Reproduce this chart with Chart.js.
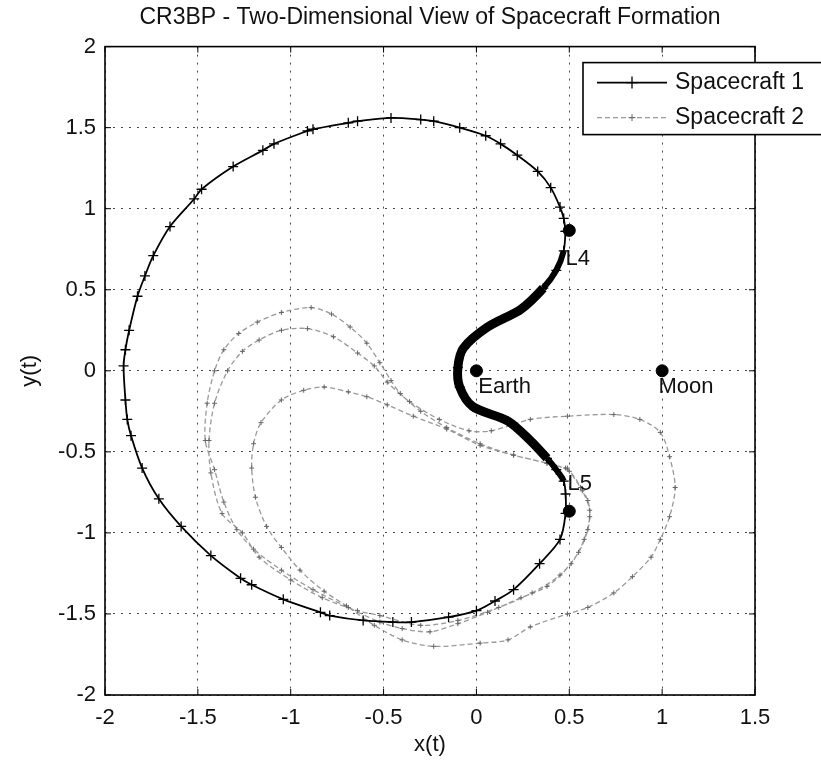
<!DOCTYPE html>
<html>
<head>
<meta charset="utf-8">
<title>CR3BP - Two-Dimensional View of Spacecraft Formation</title>
<script src="https://cdn.jsdelivr.net/npm/chart.js@4.4.1/dist/chart.umd.min.js"></script>
<style>
  html, body { margin: 0; padding: 0; background: #fff; }
  #wrap { width: 821px; height: 762px; }
</style>
</head>
<body>
<div id="wrap"><canvas id="orbitChart" width="821" height="762"></canvas></div>
<script>
// Spacecraft 1 (L4 -> top -> left -> bottom -> L5 -> Earth -> L4)
var sc1X = [0.48, 0.47, 0.45, 0.40, 0.33, 0.22, 0.13, 0.05, -0.09, -0.23,
            -0.30, -0.46, -0.64, -0.69, -0.88, -0.91, -1.09, -1.15, -1.31, -1.48,
            -1.52, -1.65, -1.74, -1.785, -1.825, -1.87, -1.89, -1.90, -1.89, -1.88,
            -1.86, -1.80, -1.71, -1.59, -1.43, -1.27, -1.21, -1.04, -0.84, -0.79,
            -0.61, -0.45, -0.35, -0.15, 0.00, 0.10, 0.20, 0.34, 0.45, 0.48,
            0.48, 0.47, 0.43, 0.38, 0.29, 0.17, -0.02, -0.09, -0.10, -0.07,
            0.06, 0.24, 0.36, 0.43, 0.47, 0.48];
var sc1Y = [0.86, 0.94, 1.01, 1.13, 1.23, 1.33, 1.40, 1.45, 1.50, 1.54,
            1.55, 1.56, 1.54, 1.53, 1.49, 1.48, 1.40, 1.36, 1.26, 1.12,
            1.06, 0.89, 0.71, 0.585, 0.46, 0.25, 0.13, 0.03, -0.18, -0.30,
            -0.40, -0.60, -0.79, -0.96, -1.14, -1.28, -1.32, -1.41, -1.49, -1.51,
            -1.54, -1.55, -1.55, -1.52, -1.48, -1.42, -1.35, -1.19, -1.04, -0.88,
            -0.76, -0.68, -0.61, -0.54, -0.43, -0.31, -0.22, -0.10, 0.02, 0.14,
            0.27, 0.38, 0.51, 0.62, 0.74, 0.86];
// the slow stretch between L5 and L4 where the markers pile up
var sc1DenseFrom = 51;
var sc1DenseTo = 64;
var sc1CoreFrom = 53;
var sc1CoreTo = 62;

// Spacecraft 2
var sc2X = [0.49, 0.56, 0.60, 0.61, 0.58, 0.51, 0.38, 0.24, 0.06, -0.10,
            -0.25, -0.40, -0.52, -0.69, -0.88, -1.05, -1.20, -1.29, -1.36, -1.41,
            -1.46, -1.45, -1.41, -1.36, -1.28, -1.18, -1.05, -0.89, -0.78, -0.68,
            -0.59, -0.52, -0.46, -0.41, -0.30, -0.16, 0.02, 0.20, 0.38, 0.50,
            0.57, 0.61, 0.60, 0.55, 0.45, 0.30, 0.12, -0.10, -0.30, -0.52,
            -0.64, -0.83, -1.00, -1.17, -1.26, -1.37, -1.43, -1.44, -1.41, -1.34,
            -1.26, -1.17, -1.05, -0.91, -0.77, -0.64, -0.55, -0.48, -0.36, -0.20,
            -0.04, 0.08, 0.29, 0.49, 0.74, 0.88, 0.99, 1.04, 1.07, 1.04,
            0.99, 0.94, 0.84, 0.74, 0.60, 0.49, 0.29, 0.17, 0.02, -0.23,
            -0.40, -0.55, -0.70, -0.82, -0.95, -1.05, -1.13, -1.19, -1.21, -1.20,
            -1.16, -1.05, -0.93, -0.82, -0.69, -0.59, -0.48, -0.34, -0.16, 0.02,
            0.20, 0.38, 0.48];
var sc2Y = [-0.60, -0.72, -0.80, -0.90, -1.04, -1.19, -1.33, -1.40, -1.49, -1.56,
            -1.61, -1.59, -1.55, -1.46, -1.35, -1.23, -1.10, -0.98, -0.81, -0.61,
            -0.43, -0.20, 0.00, 0.13, 0.23, 0.30, 0.36, 0.39, 0.35, 0.27,
            0.17, 0.05, -0.06, -0.14, -0.25, -0.35, -0.45, -0.52, -0.57, -0.62,
            -0.74, -0.86, -0.98, -1.12, -1.26, -1.37, -1.46, -1.54, -1.57, -1.51,
            -1.48, -1.40, -1.29, -1.15, -1.00, -0.88, -0.63, -0.43, -0.20, 0.00,
            0.12, 0.19, 0.25, 0.26, 0.21, 0.11, 0.03, -0.07, -0.19, -0.30,
            -0.37, -0.37, -0.30, -0.28, -0.27, -0.30, -0.38, -0.53, -0.72, -0.90,
            -1.04, -1.15, -1.27, -1.37, -1.46, -1.50, -1.58, -1.66, -1.68, -1.70,
            -1.66, -1.57, -1.45, -1.36, -1.23, -1.09, -0.96, -0.78, -0.60, -0.45,
            -0.32, -0.18, -0.12, -0.10, -0.13, -0.16, -0.21, -0.28, -0.36, -0.46,
            -0.52, -0.57, -0.60];

// bodies and libration points
var bodyNames = ['Earth', 'Moon', 'L4', 'L5'];
var bodyX = [0, 1, 0.5, 0.5];
var bodyY = [0, 0, 0.866, -0.866];
var labelX = [0.01, 0.98, 0.48, 0.49];
var labelY = [-0.1, -0.1, 0.69, -0.7];

var xTicks = [-2, -1.5, -1, -0.5, 0, 0.5, 1, 1.5];
var yTicks = [-2, -1.5, -1, -0.5, 0, 0.5, 1, 1.5, 2];

var FONT = "'Liberation Sans', Arial, Helvetica, sans-serif";

function pts(xs, ys) {
    var out = [];
    for (var i = 0; i < xs.length; i++) out.push({x: xs[i], y: ys[i]});
    return out;
}

// title centred over the axes, like matlab
var titleOverAxes = {
    id: 'titleOverAxes',
    afterLayout: function(chart) {
        var t = chart.titleBlock;
        if (t) {
            t.left = chart.chartArea.left;
            t.right = chart.chartArea.right;
            t.width = t.right - t.left;
        }
    }
};

// text next to Earth, Moon, L4, L5
var bodyLabels = {
    id: 'bodyLabels',
    afterDatasetsDraw: function(chart) {
        var ctx = chart.ctx, xs = chart.scales.x, ys = chart.scales.y;
        ctx.save();
        ctx.fillStyle = '#111';
        ctx.font = '22px ' + FONT;
        ctx.textAlign = 'left';
        ctx.textBaseline = 'middle';
        for (var i = 0; i < bodyNames.length; i++) {
            ctx.fillText(bodyNames[i], xs.getPixelForValue(labelX[i]), ys.getPixelForValue(labelY[i]));
        }
        ctx.restore();
    }
};

// box, inward ticks and the legend box
var axesBox = {
    id: 'axesBox',
    afterDraw: function(chart) {
        var ctx = chart.ctx, a = chart.chartArea, xs = chart.scales.x, ys = chart.scales.y;
        ctx.save();
        ctx.strokeStyle = '#000';
        ctx.lineWidth = 1;
        ctx.beginPath();
        xTicks.forEach(function(v) {
            var px = xs.getPixelForValue(v);
            ctx.moveTo(px, a.bottom); ctx.lineTo(px, a.bottom - 6);
            ctx.moveTo(px, a.top); ctx.lineTo(px, a.top + 6);
        });
        yTicks.forEach(function(v) {
            var py = ys.getPixelForValue(v);
            ctx.moveTo(a.left, py); ctx.lineTo(a.left + 6, py);
            ctx.moveTo(a.right, py); ctx.lineTo(a.right - 6, py);
        });
        ctx.stroke();
        ctx.lineWidth = 1.6;
        ctx.strokeRect(a.left, a.top, a.right - a.left, a.bottom - a.top);

        // legend
        var ds = chart.data.datasets;
        var lx = a.right - 172, ly = a.top + 16;
        ctx.fillStyle = '#fff';
        ctx.fillRect(lx, ly, 245, 72);
        ctx.lineWidth = 1.6;
        ctx.strokeRect(lx, ly, 245, 72);
        ctx.font = '23px ' + FONT;
        ctx.textBaseline = 'middle';
        ctx.textAlign = 'left';
        [1, 2].forEach(function(k, row) {
            var d = ds[k];
            var yy = ly + 20 + row * 35;
            ctx.save();
            ctx.strokeStyle = d.borderColor;
            ctx.lineWidth = d.borderWidth;
            ctx.setLineDash(d.borderDash || []);
            ctx.beginPath();
            ctx.moveTo(lx + 14, yy); ctx.lineTo(lx + 84, yy);
            ctx.stroke();
            ctx.setLineDash([]);
            ctx.strokeStyle = d.pointBorderColor;
            ctx.lineWidth = d.pointBorderWidth;
            var r = d.pointRadius + 1;
            ctx.beginPath();
            ctx.moveTo(lx + 49 - r, yy); ctx.lineTo(lx + 49 + r, yy);
            ctx.moveTo(lx + 49, yy - r); ctx.lineTo(lx + 49, yy + r);
            ctx.stroke();
            ctx.restore();
            ctx.fillStyle = '#111';
            ctx.fillText(d.label, lx + 92, yy);
        });
        ctx.restore();
    }
};

new Chart(document.getElementById('orbitChart'), {
    type: 'scatter',
    data: {
        datasets: [{
            label: 'Bodies',
            data: pts(bodyX, bodyY),
            showLine: false,
            pointRadius: 6,
            pointBackgroundColor: '#000',
            pointBorderColor: '#000',
            pointBorderWidth: 1
        }, {
            label: 'Spacecraft 1',
            data: pts(sc1X, sc1Y),
            showLine: true,
            tension: 0.3,
            borderColor: '#000',
            borderWidth: 1.8,
            pointStyle: 'cross',
            pointRadius: 5,
            pointBorderColor: '#000',
            pointBorderWidth: 1.3,
            segment: {
                borderWidth: function(c) {
                    if (c.p0DataIndex >= sc1CoreFrom && c.p1DataIndex <= sc1CoreTo) return 9;
                    if (c.p0DataIndex >= sc1DenseFrom && c.p1DataIndex <= sc1DenseTo) return 6;
                    return 1.8;
                }
            }
        }, {
            label: 'Spacecraft 2',
            data: pts(sc2X, sc2Y),
            showLine: true,
            tension: 0.3,
            borderColor: '#999',
            borderWidth: 1.3,
            borderDash: [5, 3],
            pointStyle: 'cross',
            pointRadius: 2.5,
            pointBorderColor: '#666',
            pointBorderWidth: 1
        }]
    },
    options: {
        responsive: false,
        animation: false,
        events: [],
        layout: { padding: { left: 0, right: 66, top: 0, bottom: 0 } },
        plugins: {
            legend: { display: false },
            tooltip: { enabled: false },
            title: {
                display: true,
                text: 'CR3BP - Two-Dimensional View of Spacecraft Formation',
                color: '#111',
                font: { family: FONT, size: 23, weight: 'normal' },
                padding: { top: 4, bottom: 15 }
            }
        },
        scales: {
            x: {
                type: 'linear',
                min: -2, max: 1.5,
                afterFit: function(s) { s.height = 67; },
                afterBuildTicks: function(s) { s.ticks = xTicks.map(function(v) { return {value: v}; }); },
                ticks: {
                    padding: 10,
                    color: '#111',
                    font: { family: FONT, size: 22 },
                    maxRotation: 0,
                    callback: function(v) { return String(v); }
                },
                grid: { color: '#4a4a4a', lineWidth: 1, drawTicks: false },
                border: { display: false, dash: [2, 6] },
                title: {
                    display: true, text: 'x(t)', color: '#111',
                    font: { family: FONT, size: 22 },
                    padding: { top: 0, bottom: 4 }
                }
            },
            y: {
                type: 'linear',
                min: -2, max: 2,
                afterFit: function(s) { s.width = 105; },
                afterBuildTicks: function(s) { s.ticks = yTicks.map(function(v) { return {value: v}; }); },
                ticks: {
                    padding: 9,
                    color: '#111',
                    font: { family: FONT, size: 22 },
                    callback: function(v) { return String(v); }
                },
                grid: { color: '#4a4a4a', lineWidth: 1, drawTicks: false },
                border: { display: false, dash: [2, 6] },
                title: {
                    display: true, text: 'y(t)', color: '#111',
                    font: { family: FONT, size: 22 },
                    padding: { top: 17, bottom: 0 }
                }
            }
        }
    },
    plugins: [titleOverAxes, bodyLabels, axesBox]
});
</script>
</body>
</html>
